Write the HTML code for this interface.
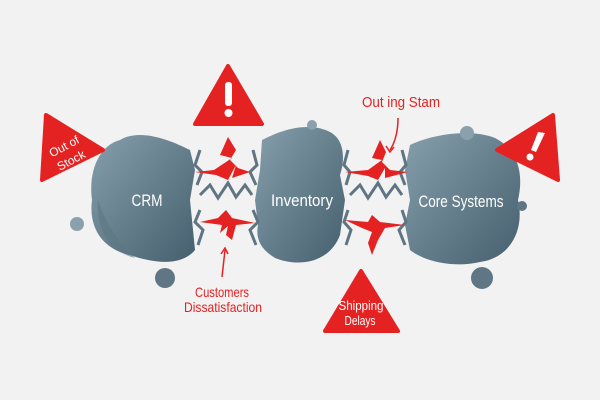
<!DOCTYPE html>
<html><head><meta charset="utf-8"><style>
html,body{margin:0;padding:0;background:#f2f2f2;}
svg{display:block}
text{font-family:"Liberation Sans",sans-serif;}
</style></head><body>
<svg width="600" height="400" viewBox="0 0 600 400" xmlns="http://www.w3.org/2000/svg">
<defs>
<linearGradient id="g" x1="0" y1="0" x2="1" y2="1">
<stop offset="0" stop-color="#869fac"/><stop offset="1" stop-color="#465f6e"/>
</linearGradient>
</defs>
<rect width="600" height="400" fill="#f2f2f2"/>
<path d="M120 140 C140 128 170 140 190 150 L195 170 L190 200 L195 250 C180 268 150 262 130 255 C105 250 88 230 92 200 C88 170 100 145 120 140 Z" fill="url(#g)"/>
<path d="M98 200 C96 230 110 252 135 258 C115 240 105 220 98 200Z" fill="#5d7684" opacity=".6"/>
<path d="M262 140 C285 128 310 122 330 132 C345 140 345 160 340 175 L345 200 L340 235 C330 262 300 268 275 258 C262 250 255 240 258 225 L255 200 L260 170 Z" fill="url(#g)"/>
<path d="M410 145 C430 135 470 128 495 138 C515 148 525 170 518 200 C525 230 510 258 480 262 C455 268 425 262 410 250 L405 225 L410 200 L405 170 Z" fill="url(#g)"/>
<g fill="none" stroke="#5f7583" stroke-width="3" stroke-linejoin="miter">
<path d="M200 195 L210 185 L218 198 L228 183 L236 197 L245 185 L252 195"/>
<path d="M350 195 L360 185 L368 198 L378 183 L386 197 L395 185 L402 195"/>
<path d="M200 150 L195 165 L202 172 L197 185 M253 150 L257 165 L250 172 L256 185"/>
<path d="M200 210 L195 222 L203 230 L198 245 M253 210 L258 222 L250 230 L256 245"/>
<path d="M348 150 L344 165 L350 172 L346 185 M402 150 L406 165 L400 172 L405 185"/>
<path d="M348 210 L344 222 L351 230 L346 245 M402 210 L406 222 L399 230 L405 245"/>
</g>
<g fill="#e52222">
<path d="M228 137 L220 155 L232 158 L214 170 L195 172 L216 175 L228 180 L236 165 L232 178 L250 172 L238 168 L230 160 L236 150 Z"/>
<path d="M200 222 L218 218 L226 210 L232 218 L255 223 L236 225 L232 240 L226 235 L228 226 L220 233 L222 225 Z"/>
<path d="M380 140 L372 158 L382 160 L368 170 L345 172 L368 176 L378 180 L385 168 L385 178 L408 172 L390 170 L382 162 L386 152 Z"/>
<path d="M345 220 L368 222 L372 215 L380 222 L405 225 L385 228 L378 240 L372 255 L368 243 L372 232 L362 228 Z"/>
</g>
<path d="M398 118 Q398 138 390 150" fill="none" stroke="#e52222" stroke-width="1.5"/>
<path d="M386 146 L390 152 L394 147" fill="none" stroke="#e52222" stroke-width="1.5"/>
<path d="M222 277 L225 250" stroke="#e52222" stroke-width="1.5"/>
<path d="M221 254 L225 248 L228 254" fill="none" stroke="#e52222" stroke-width="1.5"/>
<g fill="#5f7785">
<circle cx="77" cy="224" r="7" fill="#8aa1ad"/>
<circle cx="165" cy="278" r="10"/>
<circle cx="312" cy="125" r="5" fill="#8aa1ad"/>
<circle cx="467" cy="133" r="7" fill="#8aa1ad"/>
<circle cx="522" cy="206" r="5"/>
<circle cx="482" cy="278" r="11"/>
</g>
<path d="M228 66 L262 124 L195 124 Z" fill="#e52222" stroke="#e52222" stroke-width="4" stroke-linejoin="round"/>
<rect x="225" y="82" width="7" height="24" rx="3" fill="#fff"/><circle cx="228.5" cy="113" r="4" fill="#fff"/>
<path d="M46 115 L103 150 L42 180 Z" fill="#e52222" stroke="#e52222" stroke-width="4" stroke-linejoin="round"/>
<text transform="translate(66 150) rotate(-28)" font-size="12" fill="#fff" text-anchor="middle" textLength="32" lengthAdjust="spacingAndGlyphs">Out of</text>
<text transform="translate(73 164) rotate(-28)" font-size="12" fill="#fff" text-anchor="middle" textLength="30" lengthAdjust="spacingAndGlyphs">Stock</text>
<path d="M553 115 L558 180 L497 150 Z" fill="#e52222" stroke="#e52222" stroke-width="4" stroke-linejoin="round"/>
<path d="M538 132 L545 133 L536 152 L531 150 Z" fill="#fff"/><circle cx="530" cy="157" r="3.5" fill="#fff"/>
<path d="M361 271 L398 331 L325 331 Z" fill="#e52222" stroke="#e52222" stroke-width="4" stroke-linejoin="round"/>
<text x="361" y="310" font-size="13" fill="#fff" text-anchor="middle" textLength="45" lengthAdjust="spacingAndGlyphs">Shipping</text>
<text x="360" y="325" font-size="13" fill="#fff" text-anchor="middle" textLength="31" lengthAdjust="spacingAndGlyphs">Delays</text>
<text x="147" y="206" font-size="17" fill="#fff" text-anchor="middle" textLength="31" lengthAdjust="spacingAndGlyphs">CRM</text>
<text x="302" y="206" font-size="17" fill="#fff" text-anchor="middle" textLength="62" lengthAdjust="spacingAndGlyphs">Inventory</text>
<text x="461" y="207" font-size="17" fill="#fff" text-anchor="middle" textLength="85" lengthAdjust="spacingAndGlyphs">Core Systems</text>
<text x="401" y="107" font-size="15" fill="#e52222" text-anchor="middle" textLength="78" lengthAdjust="spacingAndGlyphs">Out ing Stam</text>
<text x="222" y="297" font-size="14" fill="#e52222" text-anchor="middle" textLength="54" lengthAdjust="spacingAndGlyphs">Customers</text>
<text x="223" y="312" font-size="14" fill="#e52222" text-anchor="middle" textLength="78" lengthAdjust="spacingAndGlyphs">Dissatisfaction</text>
</svg>
</body></html>
